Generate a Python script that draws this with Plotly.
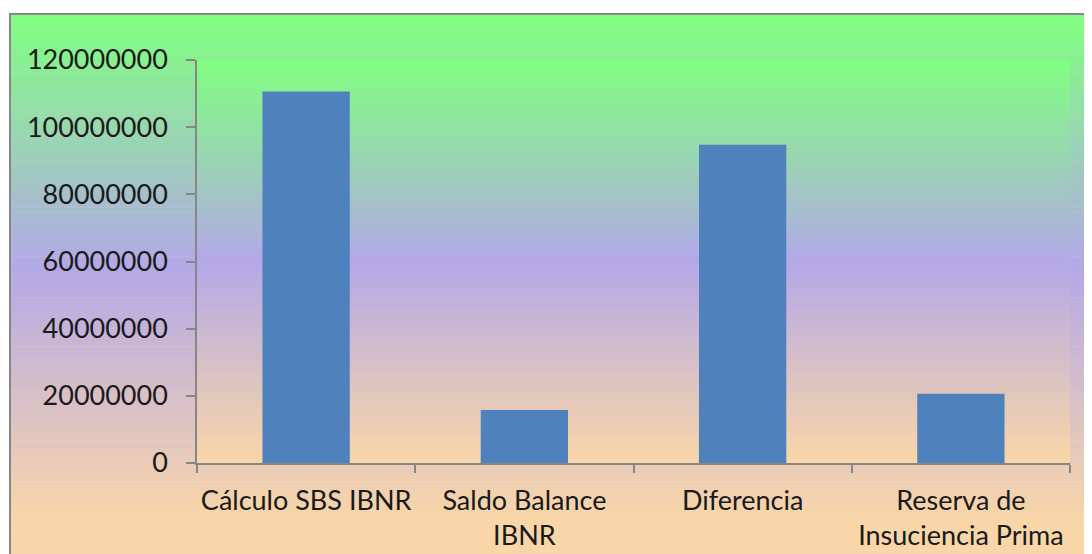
import plotly.graph_objects as go

categories = ["Cálculo SBS IBNR", "Saldo Balance<br>IBNR", "Diferencia", "Reserva de<br>Insuciencia Prima"]
values = [110600000, 15800000, 94800000, 20600000]
y_ticks = [0, 20000000, 40000000, 60000000, 80000000, 100000000, 120000000]

W, H = 1092, 554
OFF = 8  # page body margin
L, R, T, B = 197 - OFF, 1070 - OFF, 60 - OFF, 463 - OFF  # plot area pixel bounds in figure coords

GREEN = (128, 255, 128)
PURPLE = (180, 168, 232)
PEACH = (249, 214, 168)


def grad_color(f):
    f = max(0.0, min(1.0, f))
    if f < 0.5:
        a, b, t = GREEN, PURPLE, f / 0.5
    else:
        a, b, t = PURPLE, PEACH, (f - 0.5) / 0.5
    c = [round(a[i] + (b[i] - a[i]) * t) for i in range(3)]
    return f"rgb({c[0]},{c[1]},{c[2]})"


def px_x(px):
    return (px - L) / (R - L)


def px_y(py):
    return (B - py) / (B - T)


shapes = []


def add_gradient(x0, x1, y0, y1, g0, g1, n):
    step = (y1 - y0) / n
    for i in range(n):
        ya = y0 + i * step
        yb = ya + step + 0.6
        f = ((ya + step / 2) - g0) / (g1 - g0)
        shapes.append(dict(type="rect", xref="paper", yref="paper",
                           x0=px_x(x0), x1=px_x(x1), y0=px_y(yb), y1=px_y(ya),
                           fillcolor=grad_color(f), line=dict(width=0), layer="below"))


# outer chart area gradient
add_gradient(11 - OFF, W + 5, 15 - OFF, H + 5, 15 - OFF, 521 - OFF, 135)
# plot area gradient
add_gradient(L, R, T, B, T, B, 100)
# outer border
shapes.append(dict(type="rect", xref="paper", yref="paper",
                   x0=px_x(10 - OFF), x1=px_x(W + 20), y0=px_y(H + 20), y1=px_y(14 - OFF),
                   fillcolor="rgba(0,0,0,0)", line=dict(color="#868686", width=2), layer="above"))

fig = go.Figure(go.Bar(x=categories, y=values, marker=dict(color="#4F81BD", line=dict(width=0)),
                       width=0.4))

font = dict(family="Lato, Open Sans, sans-serif", size=27, color="#1a1a1a")

fig.update_layout(
    width=W, height=H,
    margin=dict(l=L, r=W - R, t=T, b=H - B, pad=0, autoexpand=False),
    paper_bgcolor="white",
    plot_bgcolor="rgba(0,0,0,0)",
    showlegend=False,
    shapes=shapes,
    font=font,
)
fig.update_xaxes(
    showgrid=False, showline=True, linecolor="#868686", linewidth=1.5,
    ticks="outside", tickson="boundaries", ticklen=8, tickcolor="#868686", tickwidth=1.5,
    tickfont=font, range=[-0.5, 3.5], ticklabelstandoff=13, tickangle=0, automargin=False,
)
fig.update_yaxes(
    range=[0, 120000000], tickvals=y_ticks, ticktext=[str(v) for v in y_ticks],
    showgrid=False, zeroline=False, showline=True, linecolor="#868686", linewidth=1.5,
    ticks="outside", ticklen=9, tickcolor="#868686", tickwidth=1.5,
    tickfont=font, ticklabelstandoff=13, automargin=False,
)

fig.write_html("out.html")
